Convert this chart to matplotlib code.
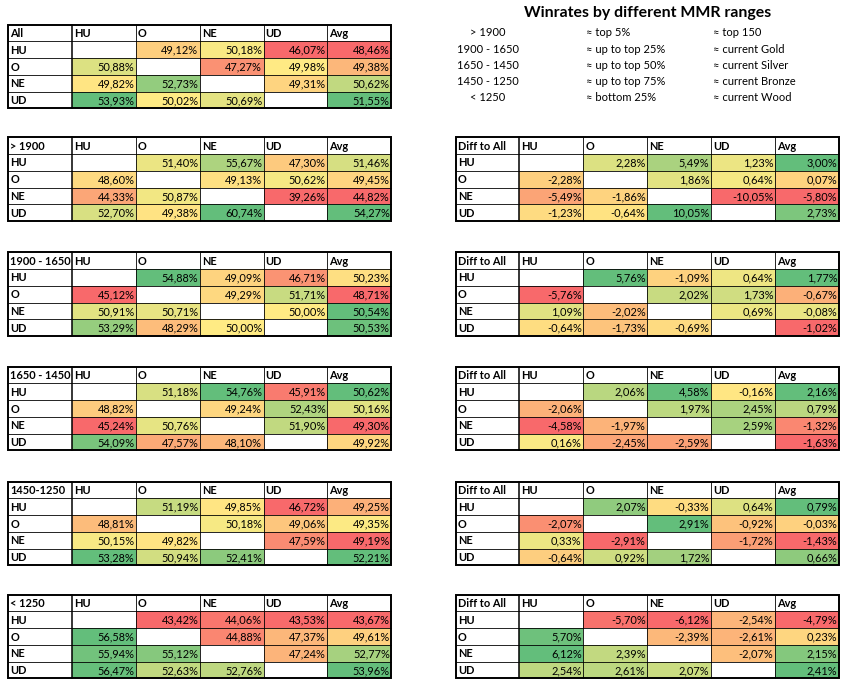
import numpy as np
import matplotlib
matplotlib.use("Agg")
import matplotlib.pyplot as plt
from matplotlib.patches import Rectangle

plt.rcParams['font.family'] = ['Lato', 'DejaVu Sans']

races = ['HU', 'O', 'NE', 'UD']
col_headers = ['HU', 'O', 'NE', 'UD', 'Avg']

# winrate tables (row race vs column race), None on the diagonal
all_wr = [[None, 49.12, 50.18, 46.07], [50.88, None, 47.27, 49.98],
          [49.82, 52.73, None, 49.31], [53.93, 50.02, 50.69, None]]
all_avg = [48.46, 49.38, 50.62, 51.55]

wr_1900 = [[None, 51.40, 55.67, 47.30], [48.60, None, 49.13, 50.62],
           [44.33, 50.87, None, 39.26], [52.70, 49.38, 60.74, None]]
avg_1900 = [51.46, 49.45, 44.82, 54.27]
diff_1900 = [[None, 2.28, 5.49, 1.23], [-2.28, None, 1.86, 0.64],
             [-5.49, -1.86, None, -10.05], [-1.23, -0.64, 10.05, None]]
diffavg_1900 = [3.00, 0.07, -5.80, 2.73]

wr_1650 = [[None, 54.88, 49.09, 46.71], [45.12, None, 49.29, 51.71],
           [50.91, 50.71, None, 50.00], [53.29, 48.29, 50.00, None]]
avg_1650 = [50.23, 48.71, 50.54, 50.53]
diff_1650 = [[None, 5.76, -1.09, 0.64], [-5.76, None, 2.02, 1.73],
             [1.09, -2.02, None, 0.69], [-0.64, -1.73, -0.69, None]]
diffavg_1650 = [1.77, -0.67, -0.08, -1.02]

wr_1450 = [[None, 51.18, 54.76, 45.91], [48.82, None, 49.24, 52.43],
           [45.24, 50.76, None, 51.90], [54.09, 47.57, 48.10, None]]
avg_1450 = [50.62, 50.16, 49.30, 49.92]
diff_1450 = [[None, 2.06, 4.58, -0.16], [-2.06, None, 1.97, 2.45],
             [-4.58, -1.97, None, 2.59], [0.16, -2.45, -2.59, None]]
diffavg_1450 = [2.16, 0.79, -1.32, -1.63]

wr_1250 = [[None, 51.19, 49.85, 46.72], [48.81, None, 50.18, 49.06],
           [50.15, 49.82, None, 47.59], [53.28, 50.94, 52.41, None]]
avg_1250 = [49.25, 49.35, 49.19, 52.21]
diff_1250 = [[None, 2.07, -0.33, 0.64], [-2.07, None, 2.91, -0.92],
             [0.33, -2.91, None, -1.72], [-0.64, 0.92, 1.72, None]]
diffavg_1250 = [0.79, -0.03, -1.43, 0.66]

wr_low = [[None, 43.42, 44.06, 43.53], [56.58, None, 44.88, 47.37],
          [55.94, 55.12, None, 47.24], [56.47, 52.63, 52.76, None]]
avg_low = [43.67, 49.61, 52.77, 53.96]
diff_low = [[None, -5.70, -6.12, -2.54], [5.70, None, -2.39, -2.61],
            [6.12, 2.39, None, -2.07], [2.54, 2.61, 2.07, None]]
diffavg_low = [-4.79, 0.23, 2.15, 2.41]

legend_ranges = ['> 1900', '1900 - 1650', '1650 - 1450', '1450 - 1250', '< 1250']
legend_pct = ['≈ top 5%', '≈ up to top 25%', '≈ up to top 50%', '≈ up to top 75%', '≈ bottom 25%']
legend_league = ['≈ top 150', '≈ current Gold', '≈ current Silver', '≈ current Bronze', '≈ current Wood']

RED = np.array([0xF8, 0x69, 0x6B]) / 255
YEL = np.array([0xFF, 0xEB, 0x84]) / 255
GRN = np.array([0x63, 0xBE, 0x7B]) / 255


def scale_colors(vals):
    # excel style 3 colour scale: min red, median yellow, max green
    v = np.array(vals, dtype=float)
    lo, mid, hi = v.min(), np.median(v), v.max()
    out = []
    for x in v:
        if x <= mid:
            t = 0 if mid == lo else (x - lo) / (mid - lo)
            out.append(RED + (YEL - RED) * t)
        else:
            t = (x - mid) / (hi - mid)
            out.append(YEL + (GRN - YEL) * t)
    return out


def fmt(v):
    return f"{v:.2f}%".replace('.', ',')


def draw_table(ax, x0, y0, title, mat, avg, label_w=64, col_w=63.8, row_h=16.75):
    flat = [v for row in mat for v in row if v is not None]
    mcols = iter(scale_colors(flat))
    acols = scale_colors(avg)
    fs = 7.9
    xs = [x0, x0 + label_w] + [x0 + label_w + col_w * (i + 1) for i in range(5)]
    # header
    ax.text(x0 + 2, y0 + row_h / 2 + 0.5, title, fontsize=fs, fontweight='bold', va='center', ha='left')
    for j, h in enumerate(col_headers):
        ax.text(xs[j + 1] + 2, y0 + row_h / 2 + 0.5, h, fontsize=fs, fontweight='bold', va='center', ha='left')
    for i, r in enumerate(races):
        yt = y0 + row_h * (i + 1)
        ax.text(x0 + 2, yt + row_h / 2 + 0.5, r, fontsize=fs, fontweight='bold', va='center', ha='left')
        cells = list(mat[i]) + [avg[i]]
        for j, v in enumerate(cells):
            if v is None:
                continue
            c = next(mcols) if j < 4 else acols[i]
            ax.add_patch(Rectangle((xs[j + 1], yt), xs[j + 2] - xs[j + 1], row_h, facecolor=c, edgecolor='none'))
            ax.text(xs[j + 2] - 1.5, yt + row_h / 2 + 0.5, fmt(v), fontsize=fs, va='center', ha='right')
    y1 = y0 + row_h * 5
    for k in range(1, 5):
        ax.plot([x0, xs[-1]], [y0 + row_h * k] * 2, color='black', lw=0.6)
    for k, xv in enumerate(xs[1:-1]):
        ax.plot([xv, xv], [y0, y1], color='black', lw=1.1 if k == 0 else 0.6)
    ax.add_patch(Rectangle((x0, y0), xs[-1] - x0, y1 - y0, facecolor='none', edgecolor='black', lw=1.4))


fig = plt.figure(figsize=(8.5, 6.83), dpi=100)
ax = fig.add_axes([0, 0, 1, 1])
ax.set_xlim(0, 850)
ax.set_ylim(683, 0)
ax.axis('off')

tops = [137.3, 252.3, 366.7, 481.7, 594.7]
left_titles = ['> 1900', '1900 - 1650', '1650 - 1450', '1450-1250', '< 1250']
left_data = [(wr_1900, avg_1900), (wr_1650, avg_1650), (wr_1450, avg_1450),
             (wr_1250, avg_1250), (wr_low, avg_low)]
right_data = [(diff_1900, diffavg_1900), (diff_1650, diffavg_1650), (diff_1450, diffavg_1450),
              (diff_1250, diffavg_1250), (diff_low, diffavg_low)]

draw_table(ax, 8.3, 24.7, 'All', all_wr, all_avg)
for top, t, (m, a) in zip(tops, left_titles, left_data):
    draw_table(ax, 8.3, top, t, m, a)
for top, (m, a) in zip(tops, right_data):
    draw_table(ax, 456, top, 'Diff to All', m, a, label_w=63.3, col_w=63.9)

ax.text(648, 13, 'Winrates by different MMR ranges', fontsize=11.4, fontweight='bold', ha='center', va='center')
for i in range(5):
    y = 33 + i * 16.2
    ax.text(488, y, legend_ranges[i], fontsize=8, ha='center', va='center')
    ax.text(586.5, y, legend_pct[i], fontsize=8, ha='left', va='center')
    ax.text(713, y, legend_league[i], fontsize=8, ha='left', va='center')

fig.savefig('out.png', dpi=100)
